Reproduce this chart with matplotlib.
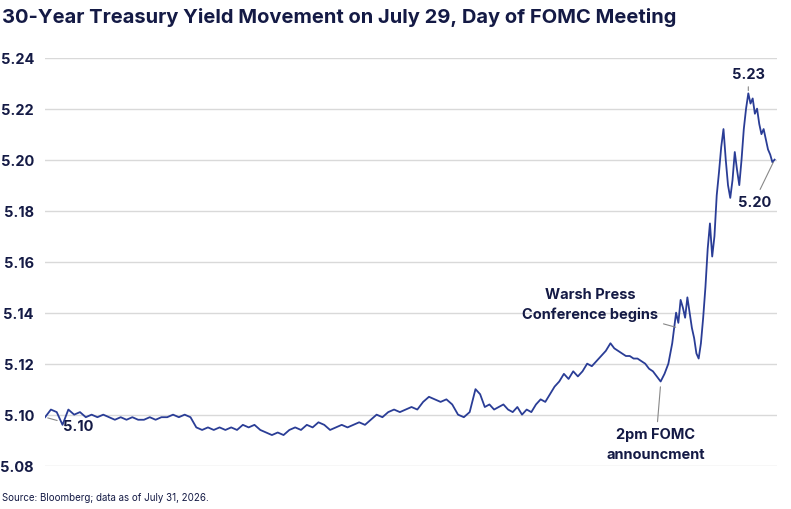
import numpy as np
import matplotlib.pyplot as plt

plt.rcParams['font.family'] = ['Inter', 'DejaVu Sans']

# intraday yield readings in time order
yields = [
    5.099, 5.102, 5.101, 5.096, 5.102, 5.100, 5.101, 5.099, 5.100, 5.099,
    5.100, 5.099, 5.098, 5.099, 5.098, 5.099, 5.098, 5.098, 5.099, 5.098,
    5.099, 5.099, 5.100, 5.099, 5.100, 5.099, 5.095, 5.094, 5.095, 5.094,
    5.095, 5.094, 5.095, 5.094, 5.096, 5.095, 5.096, 5.094, 5.093, 5.092,
    5.093, 5.092, 5.094, 5.095, 5.094, 5.096, 5.095, 5.097, 5.096, 5.094,
    5.095, 5.096, 5.095, 5.096, 5.097, 5.096, 5.098, 5.100, 5.099, 5.101,
    5.102, 5.101, 5.102, 5.103, 5.102, 5.105, 5.107, 5.106, 5.105, 5.106,
    5.104, 5.100, 5.099, 5.101, 5.110, 5.108, 5.103, 5.104, 5.102, 5.103,
    5.104, 5.102, 5.101, 5.103, 5.100, 5.102, 5.101, 5.104, 5.106, 5.105,
    5.108, 5.111, 5.113, 5.116, 5.114, 5.117, 5.115, 5.117, 5.120, 5.119,
    5.121, 5.123, 5.125, 5.128, 5.126, 5.125, 5.124, 5.123, 5.123, 5.122,
    5.122, 5.121, 5.120, 5.118, 5.117, 5.115, 5.113, 5.116, 5.120, 5.128,
    5.140, 5.136, 5.145, 5.142, 5.138, 5.146, 5.140, 5.134, 5.130, 5.124,
    5.122, 5.128, 5.138, 5.150, 5.165, 5.175, 5.162, 5.170, 5.186, 5.195,
    5.205, 5.212, 5.200, 5.190, 5.185, 5.192, 5.203, 5.196, 5.190, 5.200,
    5.212, 5.220, 5.226, 5.222, 5.224, 5.218, 5.220, 5.214, 5.210, 5.212,
    5.208, 5.204, 5.202, 5.199, 5.200,
]
# reading index -> share of the trading day (sampling was denser after the news)
anchor_idx = [0, 74, 103, 120, 152, len(yields) - 1]
anchor_day = [0.0, 0.59, 0.775, 0.865, 0.964, 1.0]
day = np.interp(np.arange(len(yields)), anchor_idx, anchor_day)
y_ticks = [5.08, 5.10, 5.12, 5.14, 5.16, 5.18, 5.20, 5.22, 5.24]

navy = '#141a45'
line_color = '#2a3d96'

fig = plt.figure(figsize=(7.91, 5.10), dpi=100)
ax = fig.add_axes([0.057, 0.085, 0.925, 0.80])
ax.plot(day, yields, color=line_color, lw=1.3)
ax.set_ylim(5.08, 5.24)
ax.set_xlim(0, 1.003)
ax.set_yticks(y_ticks)
ax.set_yticklabels([f'{t:.2f}' for t in y_ticks], fontsize=10.5, fontweight='bold', color=navy)
ax.tick_params(axis='y', length=0, pad=8)
ax.set_xticks([])
ax.grid(axis='y', color='#d9d9d9', lw=1)
for s in ax.spines.values():
    s.set_visible(False)

ann = dict(fontsize=10.5, fontweight='bold', color=navy)
arrow = dict(arrowstyle='-', color='#888888', lw=0.8)
ax.annotate('5.10', xy=(day[0], yields[0]), xytext=(0.024, 5.0955), ha='left', va='center',
            arrowprops=arrow, **ann)
peak = yields.index(max(yields))
ax.annotate('5.23', xy=(day[peak], max(yields)), xytext=(0.964, 5.2335), ha='center',
            va='center', arrowprops=arrow, **ann)
ax.annotate('5.20', xy=(day[-1], yields[-1]), xytext=(0.972, 5.1835),
            ha='center', va='center', arrowprops=arrow, **ann)
ax.annotate('Warsh Press\nConference begins', xy=(day[121], 5.134), xytext=(0.747, 5.1435),
            ha='center', va='center', linespacing=1.5, arrowprops=arrow, **ann)
ax.annotate('2pm FOMC\nannouncment', xy=(day[116], 5.112), xytext=(0.837, 5.0885),
            ha='center', va='center', linespacing=1.5, arrowprops=arrow, **ann)

fig.text(0.003, 0.955, '30-Year Treasury Yield Movement on July 29, Day of FOMC Meeting',
         fontsize=14.5, fontweight='bold', color=navy)
fig.text(0.003, 0.018, 'Source: Bloomberg; data as of July 31, 2026.', fontsize=7, color=navy)

fig.savefig('out.png', dpi=100)
